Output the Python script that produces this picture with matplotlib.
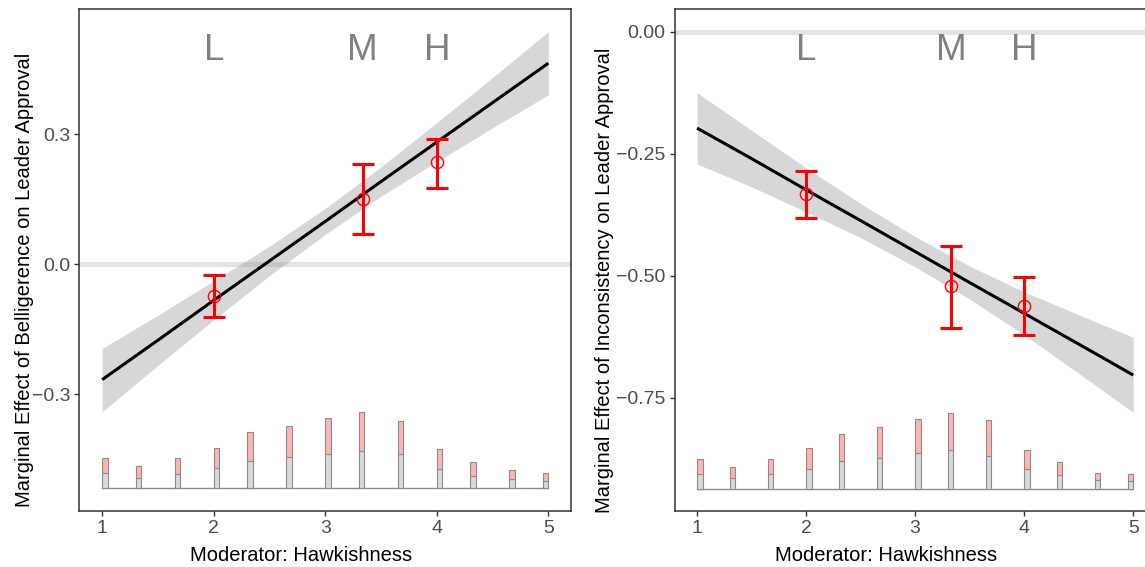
import matplotlib
matplotlib.use('Agg')
import matplotlib.pyplot as plt
import numpy as np

plt.rcParams['font.family'] = ['Liberation Sans', 'DejaVu Sans']

# ---------------- data ----------------
hawk_ticks = [1, 2, 3, 4, 5]
grid_x = [1, 1.5, 2, 2.5, 3, 3.5, 4, 4.5, 5]

# Panel 1: Belligerence
bel_line = [-0.266, -0.175, -0.083, 0.008, 0.099, 0.191, 0.282, 0.373, 0.464]
bel_upper = [-0.194, -0.117, -0.038, 0.042, 0.129, 0.225, 0.327, 0.431, 0.537]
bel_lower = [-0.340, -0.233, -0.128, -0.026, 0.069, 0.157, 0.237, 0.315, 0.391]
lmh_labels = ['L', 'M', 'H']
bel_lmh_x = [2.0, 3.335, 4.0]
bel_est = [-0.073, 0.150, 0.235]
bel_ci_low = [-0.122, 0.069, 0.177]
bel_ci_high = [-0.024, 0.231, 0.290]

# Panel 2: Inconsistency
inc_line = [-0.1975, -0.260, -0.324, -0.387, -0.4505, -0.514, -0.577, -0.640, -0.7035]
inc_upper = [-0.125, -0.202, -0.279, -0.352, -0.420, -0.480, -0.533, -0.580, -0.626]
inc_lower = [-0.271, -0.318, -0.369, -0.422, -0.482, -0.548, -0.621, -0.700, -0.780]
inc_lmh_x = [2.0, 3.333, 4.0]
inc_est = [-0.333, -0.5215, -0.563]
inc_ci_low = [-0.382, -0.607, -0.622]
inc_ci_high = [-0.285, -0.439, -0.503]

# histogram of moderator (bin left edges, bin width 0.05)
hawk_bins = [1.0, 1.3, 1.65, 2.0, 2.3, 2.65, 3.0, 3.3, 3.65, 4.0, 4.3, 4.65, 4.95]
bel_control = [46, 32, 44, 60, 83, 93, 103, 112, 102, 58, 37, 29, 23]
bel_treated = [45, 34, 46, 61, 85, 93, 108, 117, 100, 60, 42, 25, 23]
inc_control = [44, 33, 45, 60, 85, 92, 109, 116, 99, 60, 41, 26, 23]
inc_treated = [46, 33, 45, 62, 79, 93, 101, 112, 108, 57, 40, 23, 22]

# ---------------- figure ----------------
W, H = 1145, 567
fig = plt.figure(figsize=(W / 100, H / 100), dpi=100)

def px_axes(x0, x1, y0, y1):
    return fig.add_axes([x0 / W, 1 - y1 / H, (x1 - x0) / W, (y1 - y0) / H])

ax1 = px_axes(79.3, 570.7, 9, 511)
ax2 = px_axes(674.7, 1155.0, 9, 511)

band_col = (0.5, 0.5, 0.5, 0.31)
pink = '#FFB3B3'
greyfill = '#D9D9D9'
edge = '#8C8C8C'


def draw_panel(ax, line, upper, lower, lmh_x, est, lo, hi, control, treated,
               ylim, yticks, yticklabels, hist_base, hist_max, lmh_y, ylabel,
               ylab_x, xlab_x):
    ax.set_xlim(0.795, 5.2)
    ax.set_ylim(*ylim)
    ax.axhline(0, color='#E3E3E3', lw=3.6, zorder=0)
    ax.fill_between(grid_x, lower, upper, color=band_col, lw=0, zorder=1)
    # histogram
    control = np.array(control, float)
    treated = np.array(treated, float)
    scale = hist_max / (control + treated).max()
    ax.plot([1, 5], [hist_base, hist_base], color=edge, lw=1.0, zorder=2)
    ax.bar(hawk_bins, control * scale, width=0.05, bottom=hist_base, align='edge',
           color=greyfill, edgecolor=edge, lw=0.8, zorder=3)
    ax.bar(hawk_bins, treated * scale, width=0.05, bottom=hist_base + control * scale,
           align='edge', color=pink, edgecolor=edge, lw=0.8, zorder=3)
    # line
    ax.plot(grid_x, line, color='black', lw=2.2, zorder=4, solid_capstyle='butt')
    # estimates
    est = np.array(est); lo = np.array(lo); hi = np.array(hi)
    ax.errorbar(lmh_x, est, yerr=[est - lo, hi - est], fmt='none', ecolor='#FF0000',
                elinewidth=2.2, capsize=8.2, capthick=2.2, zorder=5)
    ax.plot(lmh_x, est, 'o', ms=8.8, mfc='none', mec='#FF0000', mew=1.0, zorder=6)
    for lab, xx in zip(lmh_labels, lmh_x):
        ax.text(xx, lmh_y, lab, ha='center', va='center', fontsize=26.5, color='#808080')
    ax.set_xticks(hawk_ticks)
    ax.set_xticklabels([str(t) for t in hawk_ticks])
    ax.set_yticks(yticks)
    ax.set_yticklabels(yticklabels)
    ax.tick_params(axis='both', colors='#333333', labelcolor='#4D4D4D',
                   labelsize=14, length=3.5, width=1.0, pad=3)
    for sp in ax.spines.values():
        sp.set_color('#333333')
        sp.set_linewidth(1.1)
    ax.set_ylabel(ylabel, fontsize=14.5, color='black')
    ax.yaxis.set_label_coords(ylab_x, 0.46)
    ax.set_xlabel('Moderator: Hawkishness', fontsize=14.5, color='black')
    ax.xaxis.set_label_coords(xlab_x, -0.088)
    ax.xaxis.label.set_va('center')
    ax.yaxis.label.set_va('center')


draw_panel(ax1, bel_line, bel_upper, bel_lower, bel_lmh_x, bel_est, bel_ci_low,
           bel_ci_high, bel_control, bel_treated,
           (-0.569, 0.589), [-0.3, 0.0, 0.3], ['\u22120.3', '0.0', '0.3'],
           -0.517, 0.176, 0.494,
           'Marginal Effect of Belligerence on Leader Approval', -0.112, 0.451)

draw_panel(ax2, inc_line, inc_upper, inc_lower, inc_lmh_x, inc_est, inc_ci_low,
           inc_ci_high, inc_control, inc_treated,
           (-0.982, 0.0465), [-0.75, -0.5, -0.25, 0.0],
           ['\u22120.75', '\u22120.50', '\u22120.25', '0.00'],
           -0.937, 0.1557, -0.0385,
           'Marginal Effect of Inconsistency on Leader Approval', -0.147, 0.44)

fig.savefig('out.png', dpi=100)
